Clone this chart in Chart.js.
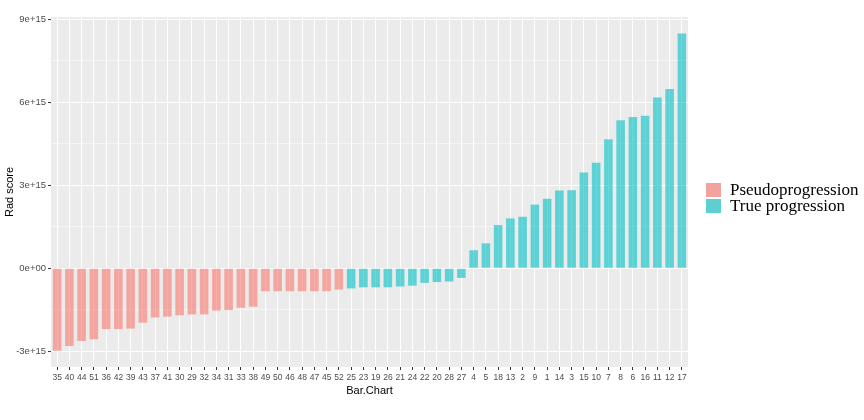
<!DOCTYPE html>
<html>
<head>
<meta charset="utf-8">
<script src="https://cdn.jsdelivr.net/npm/chart.js@4.4.1/dist/chart.umd.min.js"></script>
<style>
  html, body { margin: 0; padding: 0; background: #fff; }
  #wrap { position: relative; width: 864px; height: 420px; }
  #legend { position: absolute; left: 706px; top: 182px; font-family: "Liberation Serif", serif; font-size: 17px; color: #000; }
  .item { display: flex; align-items: center; height: 16px; }
  .box { width: 15px; height: 14px; margin-right: 9px; }
</style>
</head>
<body>
<div id="wrap">
  <canvas id="radChart" width="864" height="420"></canvas>
  <div id="legend"></div>
</div>
<script>
// --- data ---
const pseudoIds = ['35', '40', '44', '51', '36', '42', '39', '43', '37', '41', '30', '29', '32', '34', '31', '33', '38', '49', '50', '46', '48', '47', '45', '52'];
const pseudoValues = [-2.98e15, -2.81e15, -2.63e15, -2.57e15, -2.20e15, -2.20e15, -2.18e15, -1.97e15, -1.78e15, -1.75e15, -1.70e15, -1.67e15, -1.67e15, -1.53e15, -1.51e15, -1.43e15, -1.39e15, -0.83e15, -0.83e15, -0.83e15, -0.83e15, -0.83e15, -0.83e15, -0.77e15];

const trueIds = ['25', '23', '19', '26', '21', '24', '22', '20', '28', '27', '4', '5', '18', '13', '2', '9', '1', '14', '3', '15', '10', '7', '8', '6', '16', '11', '12', '17'];
const trueValues = [-0.73e15, -0.69e15, -0.69e15, -0.69e15, -0.66e15, -0.63e15, -0.53e15, -0.50e15, -0.48e15, -0.35e15, 0.65e15, 0.90e15, 1.56e15, 1.80e15, 1.86e15, 2.30e15, 2.51e15, 2.81e15, 2.82e15, 3.46e15, 3.81e15, 4.66e15, 5.35e15, 5.47e15, 5.51e15, 6.17e15, 6.48e15, 8.48e15];

const yTicks = [-3e15, -1.5e15, 0, 1.5e15, 3e15, 4.5e15, 6e15, 7.5e15, 9e15];
const yMajor = [-3e15, 0, 3e15, 6e15, 9e15];
const yTickLabels = ['-3e+15', '0e+00', '3e+15', '6e+15', '9e+15'];

const groupNames = ['Pseudoprogression', 'True progression'];

// --- styling ---
const pinkFill = 'rgba(248,118,109,0.6)';
const tealFill = 'rgba(0,191,196,0.6)';
const legendColors = ['#F2A39D', '#5ECFD1'];

const labels = pseudoIds.concat(trueIds);
const pseudoData = pseudoValues.concat(trueIds.map(() => null));
const trueData = pseudoIds.map(() => null).concat(trueValues);

const panelBg = {
    id: 'panelBg',
    beforeDraw(chart) {
        const a = chart.chartArea;
        const c = chart.ctx;
        c.save();
        c.fillStyle = '#EBEBEB';
        c.fillRect(a.left, a.top, a.right - a.left, a.bottom - a.top);
        c.restore();
    }
};

const isMajor = v => yMajor.some(m => Math.abs(m - v) < 1e12);

const ctx = document.getElementById('radChart').getContext('2d');
const radChart = new Chart(ctx, {
    type: 'bar',
    data: {
        labels: labels,
        datasets: [
            { label: groupNames[0], data: pseudoData, backgroundColor: pinkFill, borderWidth: 0 },
            { label: groupNames[1], data: trueData, backgroundColor: tealFill, borderWidth: 0 }
        ]
    },
    options: {
        responsive: false,
        animation: false,
        categoryPercentage: 1,
        barPercentage: 0.7,
        layout: { padding: { top: 17, right: 176, bottom: 18, left: 0 } },
        plugins: {
            legend: { display: false }, // html legend below
            tooltip: { enabled: false }
        },
        scales: {
            x: {
                stacked: true,
                border: { display: false },
                grid: { offset: false, color: '#FFFFFF', lineWidth: 1, tickColor: '#333333', tickLength: 3, tickWidth: 1 },
                ticks: { autoSkip: false, maxRotation: 0, minRotation: 0, padding: 3, color: '#4D4D4D', font: { family: 'Liberation Sans', size: 8.5 } },
                title: { display: true, text: 'Bar.Chart', color: '#000', padding: 4, font: { family: 'Liberation Sans', size: 11 } },
                afterFit: s => { s.height = 35; }
            },
            y: {
                stacked: true,
                min: -3.57e15,
                max: 9.08e15,
                border: { display: false },
                afterBuildTicks: s => { s.ticks = yTicks.map(v => ({ value: v })); },
                grid: {
                    color: '#FFFFFF',
                    lineWidth: c => isMajor(c.tick.value) ? 1.1 : 0.5,
                    tickColor: c => isMajor(c.tick.value) ? '#333333' : 'rgba(0,0,0,0)',
                    tickLength: 3,
                    tickWidth: 1
                },
                ticks: {
                    padding: 2,
                    color: '#4D4D4D',
                    font: { family: 'Liberation Sans', size: 9.5 },
                    callback: v => { const i = yMajor.findIndex(m => Math.abs(m - v) < 1e12); return i >= 0 ? yTickLabels[i] : ''; }
                },
                title: { display: true, text: 'Rad score', color: '#000', padding: 3, font: { family: 'Liberation Sans', size: 11 } },
                afterFit: s => { s.width = 51; }
            }
        }
    },
    plugins: [panelBg]
});

// --- legend ---
const legendEl = document.getElementById('legend');
groupNames.forEach((name, i) => {
    const row = document.createElement('div');
    row.className = 'item';
    row.innerHTML = '<span class="box" style="background:' + legendColors[i] + '"></span><span>' + name + '</span>';
    legendEl.appendChild(row);
});
</script>
</body>
</html>
